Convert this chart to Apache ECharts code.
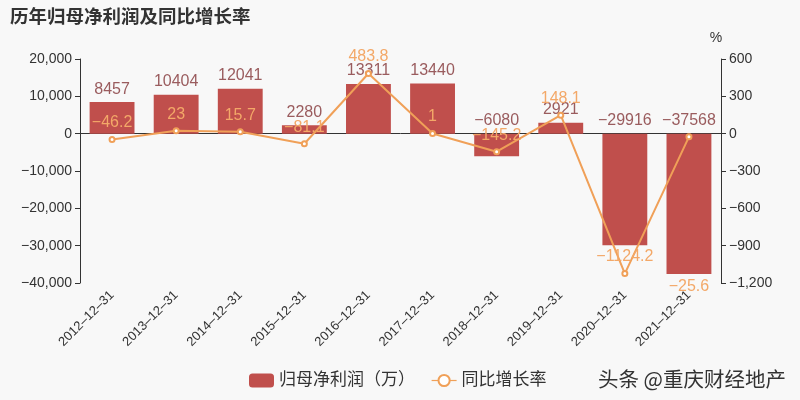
<!DOCTYPE html>
<html>
<head>
<meta charset="utf-8">
<script src="https://cdn.jsdelivr.net/npm/echarts@6/dist/echarts.min.js"></script>
<style>
  html, body { margin: 0; padding: 0; background: #f8f8f8; }
  #chart { width: 800px; height: 400px; }
</style>
</head>
<body>
<div id="chart"></div>
<script>
// 年度数据
var years = ['2012-12-31', '2013-12-31', '2014-12-31', '2015-12-31', '2016-12-31',
             '2017-12-31', '2018-12-31', '2019-12-31', '2020-12-31', '2021-12-31'];
var netProfit = [8457, 10404, 12041, 2280, 13311, 13440, -6080, 2921, -29916, -37568];
var growthRate = [-46.2, 23, 15.7, -81.1, 483.8, 1, -145.2, 148.1, -1124.2, -25.6];

var fontFamily = '"Liberation Sans", Arial, "Noto Sans CJK SC", sans-serif';

// 负号显示为 “−”
function minus(s) { return String(s).replace(/-/g, '\u2212'); }
function thousands(v) { return minus(echarts.format.addCommas(v)); }

// 增长率标签：最后一项标签放在底部
var rateData = growthRate.map(function (v, i) {
  if (i === growthRate.length - 1) {
    return { value: v, label: { offset: [0, 166] } };
  }
  return v;
});

var chart = echarts.init(document.getElementById('chart'));
chart.setOption({
  backgroundColor: '#f8f8f8',
  textStyle: { fontFamily: fontFamily },
  title: {
    text: '历年归母净利润及同比增长率',
    left: 5,
    top: 4,
    textStyle: { fontSize: 18.5, fontWeight: 'bold', color: '#333', fontFamily: fontFamily }
  },
  legend: {
    bottom: 6,
    left: 244,
    itemGap: 16,
    itemWidth: 25,
    itemHeight: 14,
    textStyle: { fontSize: 17, color: '#333', fontFamily: fontFamily },
    data: [
      { name: '归母净利润（万）', icon: 'roundRect' },
      { name: '同比增长率', lineStyle: { width: 1.2 }, itemStyle: { borderWidth: 1 } }
    ]
  },
  grid: { left: 80, right: 79, top: 59, bottom: 117 },
  xAxis: {
    type: 'category',
    data: years,
    axisLine: { lineStyle: { color: '#333' } },
    axisTick: { alignWithLabel: false },
    axisLabel: {
      rotate: 45, fontSize: 13, color: '#333', margin: 10,
      formatter: function (v) { return v.replace(/-/g, '\u2013'); }
    }
  },
  yAxis: [
    {
      type: 'value',
      min: -40000,
      max: 20000,
      interval: 10000,
      axisLine: { show: true, lineStyle: { color: '#333' } },
      axisTick: { show: true },
      splitLine: { show: false },
      axisLabel: { fontSize: 14, color: '#333', formatter: thousands }
    },
    {
      type: 'value',
      name: '%',
      nameTextStyle: { fontSize: 14, color: '#333', padding: [0, 0, 0, -10] },
      nameGap: 14,
      min: -1200,
      max: 600,
      interval: 300,
      axisLine: { show: true, lineStyle: { color: '#333' } },
      axisTick: { show: true },
      splitLine: { show: false },
      axisLabel: { fontSize: 14, color: '#333', formatter: thousands }
    }
  ],
  series: [
    {
      name: '归母净利润（万）',
      type: 'bar',
      data: netProfit,
      barWidth: '70%',
      itemStyle: { color: '#c04f4c' },
      label: {
        show: true, position: 'top', fontSize: 16, color: '#9a5c5e',
        formatter: function (p) { return minus(p.value); }
      }
    },
    {
      name: '同比增长率',
      type: 'line',
      yAxisIndex: 1,
      data: rateData,
      symbol: 'emptyCircle',
      symbolSize: 5,
      itemStyle: { color: '#f0a058' },
      lineStyle: { color: '#f0a058', width: 2 },
      label: {
        show: true, position: 'top', fontSize: 16, color: '#f3a868',
        formatter: function (p) { return minus(p.value); }
      },
      z: 3
    }
  ],
  graphic: [
    {
      type: 'text',
      left: 598,
      top: 369,
      style: { text: '头条 @重庆财经地产', fontSize: 20.5, fill: '#333', fontFamily: '"Noto Sans CJK SC", sans-serif' }
    }
  ]
});
</script>
</body>
</html>
